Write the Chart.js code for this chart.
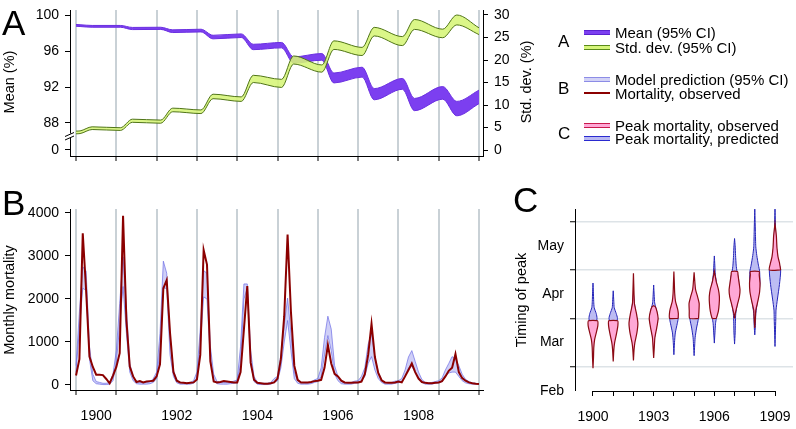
<!DOCTYPE html>
<html>
<head>
<meta charset="utf-8">
<script src="https://cdn.jsdelivr.net/npm/chart.js@4.4.1/dist/chart.umd.min.js"></script>
<style>
  html, body { margin: 0; padding: 0; background: #fff; }
  body { width: 796px; height: 429px; position: relative; overflow: hidden;
         font-family: "Liberation Sans", Arial, sans-serif; color: #000; }
  canvas { position: absolute; left: 0; top: 0; }
  .panel { position: absolute; font-size: 35px; line-height: 35px; }
  .ytitle { position: absolute; font-size: 14.5px; white-space: nowrap;
            transform: translate(-50%, -50%) rotate(-90deg); }
  .leg-letter { position: absolute; left: 558px; font-size: 17px; line-height: 17px; transform: translateY(-50%); }
  .leg-row { position: absolute; left: 584px; height: 16px; transform: translateY(-50%);
             display: flex; align-items: center; font-size: 15px; white-space: nowrap; }
  .sw { width: 26px; margin-right: 5px; box-sizing: border-box; }
</style>
</head>
<body>
<canvas id="cA" width="796" height="429"></canvas>
<canvas id="cB" width="796" height="429"></canvas>
<canvas id="cC" width="796" height="429"></canvas>

<div class="panel" style="left:2px; top:5px;">A</div>
<div class="panel" style="left:2px; top:185px;">B</div>
<div class="panel" style="left:513px; top:182px;">C</div>

<div class="ytitle" style="left:9px; top:82px;">Mean (%)</div>
<div class="ytitle" style="left:526px; top:82px;">Std. dev. (%)</div>
<div class="ytitle" style="left:9px; top:300px;">Monthly mortality</div>
<div class="ytitle" style="left:521px; top:300px;">Timing of peak</div>

<div class="leg-letter" style="top:41px;">A</div>
<div class="leg-letter" style="top:88px;">B</div>
<div class="leg-letter" style="top:133px;">C</div>
<div class="leg-row" style="top:32px;"><div class="sw" style="height:5px;background:#7c3ff0;border-top:1px solid #5a22d0;border-bottom:1px solid #5a22d0;"></div>Mean (95% CI)</div>
<div class="leg-row" style="top:47px;"><div class="sw" style="height:5px;background:#d6f57a;border-top:1.5px solid #5a8a1a;border-bottom:1.5px solid #5a8a1a;"></div>Std. dev. (95% CI)</div>
<div class="leg-row" style="top:79px;"><div class="sw" style="height:5px;background:#d2d2f6;border-top:1.5px solid #8c8ce6;border-bottom:1.5px solid #8c8ce6;"></div>Model prediction (95% CI)</div>
<div class="leg-row" style="top:93px;"><div class="sw" style="height:2px;background:#8b0000;"></div>Mortality, observed</div>
<div class="leg-row" style="top:125px;"><div class="sw" style="height:5px;background:#ffa8d6;border-top:1.5px solid #c81a4c;border-bottom:1.5px solid #c81a4c;"></div>Peak mortality, observed</div>
<div class="leg-row" style="top:138px;"><div class="sw" style="height:5px;background:#b9b9f2;border-top:1.5px solid #2a2ad0;border-bottom:1.5px solid #2a2ad0;"></div>Peak mortality, predicted</div>

<script>
// ---------- DATA ----------
// panel A : knots (decimal year) of the mean / std. dev. bands
const yrA    = [1900.0, 1900.1, 1900.4, 1901.1, 1901.4, 1902.1, 1902.4, 1903.1, 1903.4, 1904.1, 1904.4,
                1905.1, 1905.4, 1906.1, 1906.4, 1907.1, 1907.4, 1908.1, 1908.4, 1909.1, 1909.45, 1910.0];
const meanHi = [98.95, 98.92, 98.84, 98.84, 98.62, 98.64, 98.35, 98.42, 97.75, 97.9, 96.75,
                96.95, 95.35, 95.72, 93.55, 94.2, 91.82, 92.95, 90.73, 92.05, 90.4, 91.65];
const meanLo = [98.75, 98.72, 98.64, 98.64, 98.38, 98.40, 98.05, 98.12, 97.35, 97.5, 96.15,
                96.35, 94.65, 94.98, 92.45, 93.1, 90.58, 91.75, 89.37, 90.65, 88.8, 90.15];
const sdHi   = [4.2, 4.25, 5.15, 4.95, 6.85, 6.65, 9.3, 8.9, 12.4, 11.8, 16.6,
                15.7, 20.9, 18.9, 24.25, 22.8, 27.25, 25.2, 29.0, 26.85, 30.0, 27.15];
const sdLo   = [3.6, 3.65, 4.55, 4.35, 6.15, 5.95, 8.5, 8.1, 11.4, 10.8, 15.0,
                13.9, 19.1, 17.3, 22.35, 21.0, 25.35, 23.2, 26.8, 24.95, 27.8, 25.65];
const meanTicks = [85, 88, 92, 96, 100];
const meanTickLabels = ["0", "88", "92", "96", "100"];
const sdTicks = [0, 5, 10, 15, 20, 25, 30];

// panel B : monthly values Jan 1900 .. Jan 1910
const obsMortality = [
  220, 600, 3530, 2200, 660, 420, 240, 240, 230, 140, 40, 220,
  420, 740, 3937, 1500, 430, 200, 70, 90, 60, 80, 90, 100,
  200, 480, 2250, 2440, 1200, 300, 100, 60, 50, 40, 50, 60,
  130, 700, 3140, 2800, 550, 80, 60, 70, 90, 80, 70, 60,
  60, 300, 1300, 2300, 520, 120, 50, 40, 30, 30, 40, 60,
  150, 600, 1600, 3500, 1700, 450, 120, 60, 60, 60, 70, 90,
  100, 120, 400, 930, 500, 260, 200, 100, 60, 50, 50, 60,
  60, 80, 250, 700, 1420, 650, 280, 110, 60, 50, 50, 60,
  80, 60, 200, 350, 500, 300, 150, 70, 50, 40, 40, 50,
  60, 90, 200, 330, 400, 720, 300, 160, 100, 60, 40, 30,
  25];
const modelLo = [
  300, 1300, 2250, 2200, 600, 100, 30, 20, 10, 10, 20, 100,
  500, 1400, 2290, 1200, 300, 100, 30, 20, 20, 20, 30, 60,
  150, 800, 2250, 2250, 700, 200, 50, 20, 20, 20, 20, 40,
  150, 900, 2050, 2000, 600, 100, 30, 20, 20, 20, 30, 40,
  50, 500, 2000, 2250, 500, 80, 20, 10, 10, 10, 20, 60,
  100, 400, 1000, 1500, 800, 150, 40, 20, 20, 20, 30, 60,
  80, 200, 700, 1150, 800, 250, 100, 30, 20, 20, 20, 40,
  50, 100, 200, 500, 660, 350, 150, 60, 20, 20, 20, 40,
  50, 80, 200, 400, 430, 300, 150, 60, 20, 20, 20, 40,
  50, 80, 200, 280, 300, 300, 200, 100, 50, 30, 20, 20,
  20];
const modelHi = [
  450, 1700, 2750, 2650, 900, 250, 80, 60, 40, 40, 60, 250,
  800, 1900, 2980, 1800, 500, 200, 80, 60, 50, 60, 70, 150,
  300, 1200, 2880, 2600, 1100, 350, 120, 60, 50, 50, 60, 100,
  300, 1300, 2660, 2600, 900, 250, 80, 60, 60, 60, 70, 90,
  120, 900, 2350, 2350, 800, 200, 60, 40, 40, 40, 60, 150,
  200, 700, 1400, 2020, 1200, 300, 100, 60, 50, 50, 70, 120,
  150, 400, 1100, 1600, 1300, 450, 200, 80, 50, 50, 60, 90,
  100, 200, 400, 950, 1200, 650, 300, 120, 60, 50, 60, 90,
  100, 150, 350, 650, 800, 550, 300, 130, 60, 50, 60, 80,
  100, 160, 350, 500, 660, 600, 450, 250, 130, 80, 50, 40,
  30];
const mortTicks = [0, 1000, 2000, 3000, 4000];
const yearTicks = [1900, 1901, 1902, 1903, 1904, 1905, 1906, 1907, 1908, 1909, 1910];
const yearLabelsB = [1900, 1902, 1904, 1906, 1908];

// panel C : violin outlines, [month (2 = 1 Mar), half width in years]
const peakYears = [1900, 1901, 1902, 1903, 1904, 1905, 1906, 1907, 1908, 1909];
const yearLabelsC = [1900, 1903, 1906, 1909];
const monthNames = ["Feb", "Mar", "Apr", "May"];
const predProfiles = [
  [[2.45,0],[2.75,0.1],[3.0,0.2],[3.1,0.16],[3.22,0.06],[3.35,0.035],[3.55,0.02],[3.73,0]],
  [[2.5,0],[2.8,0.1],[3.0,0.21],[3.1,0.15],[3.22,0.05],[3.35,0.03],[3.57,0]],
  [[2.5,0],[2.8,0.15],[2.95,0.18],[3.2,0.08],[3.5,0]],
  [[2.5,0],[2.8,0.12],[3.0,0.2],[3.2,0.12],[3.32,0.05],[3.45,0.03],[3.69,0]],
  [[2.25,0],[2.5,0.03],[2.7,0.07],[2.9,0.17],[3.0,0.21],[3.1,0.15],[3.3,0.05],[3.5,0]],
  [[2.23,0],[2.45,0.03],[2.6,0.05],[2.8,0.12],[3.0,0.21],[3.2,0.15],[3.4,0.05],[3.6,0]],
  [[2.49,0],[2.7,0.03],[2.9,0.06],[3.0,0.1],[3.3,0.2],[3.6,0.15],[3.9,0.05],[4.1,0.025],[4.29,0]],
  [[2.47,0],[2.7,0.03],[2.9,0.04],[3.1,0.06],[3.5,0.2],[3.8,0.2],[3.97,0.12],[4.1,0.08],[4.3,0.05],[4.5,0.03],[4.65,0]],
  [[2.66,0],[2.85,0.03],[3.1,0.05],[3.4,0.15],[3.7,0.25],[3.97,0.24],[4.1,0.18],[4.3,0.1],[4.48,0.05],[4.8,0.03],[5.3,0]],
  [[2.42,0],[2.7,0.02],[3.0,0.04],[3.17,0.05],[3.4,0.12],[3.7,0.22],[4.0,0.28],[4.2,0.15],[4.5,0.06],[4.8,0.03],[5.3,0]]
];
const obsProfiles = [
  [[1.97,0],[2.2,0.025],[2.4,0.04],[2.56,0.08],[2.7,0.16],[2.85,0.24],[2.95,0.22]],
  [[2.11,0],[2.35,0.03],[2.5,0.07],[2.7,0.17],[2.85,0.23],[2.95,0.22]],
  [[2.13,0],[2.35,0.03],[2.5,0.07],[2.7,0.17],[2.9,0.22],[3.1,0.15],[3.3,0.05],[3.5,0.03],[3.93,0]],
  [[2.18,0],[2.4,0.03],[2.6,0.06],[2.8,0.15],[3.0,0.22],[3.15,0.16],[3.24,0.08],[3.26,0]],
  [[3.0,0.21],[3.1,0.22],[3.2,0.18],[3.35,0.08],[3.52,0.04],[3.75,0.02],[3.97,0]],
  [[3.0,0.22],[3.15,0.24],[3.31,0.25],[3.45,0.17],[3.6,0.07],[3.73,0.04],[3.95,0]],
  [[3.0,0.1],[3.15,0.2],[3.3,0.24],[3.45,0.25],[3.6,0.2],[3.75,0.1],[3.86,0.05],[3.97,0]],
  [[3.0,0],[3.11,0.04],[3.3,0.15],[3.45,0.24],[3.59,0.27],[3.75,0.22],[3.9,0.17],[3.97,0.15]],
  [[2.8,0],[3.0,0.03],[3.17,0.05],[3.35,0.15],[3.55,0.24],[3.73,0.26],[3.9,0.22],[3.97,0.22]],
  [[4.0,0.28],[4.15,0.22],[4.27,0.15],[4.45,0.1],[4.6,0.08],[4.69,0.07],[4.85,0.03],[4.96,0]]
];

// ---------- STYLE ----------
const FONT = "'Liberation Sans', Arial, sans-serif";
const GRID = "#c9d1d6";
Chart.defaults.font.family = FONT;
Chart.defaults.font.size = 14;
Chart.defaults.color = "#000";

const pts = (xs, ys) => xs.map((x, i) => ({ x, y: ys[i] }));
const monthX = obsMortality.map((_, i) => 1900 + i / 12);
const isInt = (v) => Math.abs(v - Math.round(v)) < 1e-6;

// fix the size of an axis box, and drop the label overhang padding
const fixSize = (w, h) => (s) => {
  if (w != null) s.width = w;
  if (h != null) s.height = h;
  s.paddingTop = 0; s.paddingBottom = 0; s.paddingLeft = 0; s.paddingRight = 0;
};
const setTicks = (vals) => (s) => { s.ticks = vals.map((v) => ({ value: v })); };

function yAxisBase(extra) {
  return Object.assign({
    type: "linear",
    border: { display: true, color: "#000", width: 1 },
    grid: { drawOnChartArea: false, drawTicks: true, tickLength: 5, tickColor: "#000" },
    ticks: { padding: 6, font: { size: 14 }, callback: (v) => String(v) }
  }, extra);
}

const baseOpts = {
  responsive: false,
  animation: false,
  events: [],
  plugins: { legend: { display: false }, tooltip: { enabled: false } }
};

// ---------- PANEL A ----------
const axisBreak = {
  id: "axisBreak",
  afterDraw(chart) {
    const { ctx } = chart;
    const x = chart.chartArea.left;
    ctx.save();
    ctx.fillStyle = "#fff";
    ctx.fillRect(x - 2, 133.5, 4, 4);
    ctx.strokeStyle = "#000";
    ctx.lineWidth = 1;
    ctx.beginPath();
    ctx.moveTo(x - 5, 136.5); ctx.lineTo(x + 4, 132.5);
    ctx.moveTo(x - 5, 140); ctx.lineTo(x + 4, 136);
    ctx.stroke();
    ctx.restore();
  }
};

new Chart(document.getElementById("cA"), {
  type: "line",
  data: {
    datasets: [
      { data: pts(yrA, meanHi), yAxisID: "y", borderColor: "#6a2fe0", borderWidth: 1, pointRadius: 0,
        fill: false, cubicInterpolationMode: "monotone", order: 2 },
      { data: pts(yrA, meanLo), yAxisID: "y", borderColor: "#6a2fe0", borderWidth: 1, pointRadius: 0,
        backgroundColor: "#7c3ff0", fill: "-1", cubicInterpolationMode: "monotone", order: 2 },
      { data: pts(yrA, sdHi), yAxisID: "y2", borderColor: "#4f7417", borderWidth: 1, pointRadius: 0,
        fill: false, cubicInterpolationMode: "monotone", order: 1 },
      { data: pts(yrA, sdLo), yAxisID: "y2", borderColor: "#4f7417", borderWidth: 1, pointRadius: 0,
        backgroundColor: "rgba(214,245,120,0.88)", fill: "-1", cubicInterpolationMode: "monotone", order: 1 }
    ]
  },
  options: Object.assign({}, baseOpts, {
    layout: { padding: { left: 0, right: 236, top: 10, bottom: 263 } },
    scales: {
      x: {
        type: "linear", min: 1899.85, max: 1910.1,
        afterBuildTicks: setTicks(yearTicks), afterFit: fixSize(null, 10),
        border: { display: true, color: "#000" },
        grid: { color: GRID, lineWidth: 2, drawTicks: true, tickLength: 5, tickColor: "#000", tickWidth: 1 },
        ticks: { display: false }
      },
      y: yAxisBase({
        position: "left", min: 84.333, max: 100.556,
        afterBuildTicks: setTicks(meanTicks), afterFit: fixSize(70, null),
        ticks: { padding: 6, callback: (v) => meanTickLabels[meanTicks.indexOf(v)] }
      }),
      y2: yAxisBase({
        position: "right", min: -1.333, max: 31.111,
        afterBuildTicks: setTicks(sdTicks), afterFit: fixSize(77, null)
      })
    }
  }),
  plugins: [axisBreak]
});

// ---------- PANEL B ----------
const bTicks = yearTicks.concat(yearLabelsB.map((y) => y + 0.5)).sort((a, b) => a - b);
new Chart(document.getElementById("cB"), {
  type: "line",
  data: {
    datasets: [
      { data: pts(monthX, obsMortality), borderColor: "#8b0000", borderWidth: 2, pointRadius: 0,
        fill: false, tension: 0, order: 1 },
      { data: pts(monthX, modelHi), borderColor: "rgba(110,110,230,0.7)", borderWidth: 1, pointRadius: 0,
        fill: false, tension: 0, order: 2 },
      { data: pts(monthX, modelLo), borderColor: "rgba(110,110,230,0.7)", borderWidth: 1, pointRadius: 0,
        backgroundColor: "rgba(130,130,235,0.38)", fill: "-1", tension: 0, order: 2 }
    ]
  },
  options: Object.assign({}, baseOpts, {
    layout: { padding: { left: 0, right: 313, top: 209, bottom: 9 } },
    scales: {
      x: {
        type: "linear", min: 1899.85, max: 1910.1,
        afterBuildTicks: setTicks(bTicks), afterFit: fixSize(null, 30),
        border: { display: true, color: "#000" },
        grid: {
          drawTicks: true, tickLength: 5,
          color: GRID, lineWidth: (c) => (c.tick && isInt(c.tick.value) ? 2 : 0),
          tickColor: "#000", tickWidth: (c) => (c.tick && isInt(c.tick.value) ? 1 : 0)
        },
        ticks: {
          autoSkip: false, maxRotation: 0, padding: 13,
          callback: (v) => (yearLabelsB.indexOf(v - 0.5) >= 0 ? String(v - 0.5) : "")
        }
      },
      y: yAxisBase({
        position: "left", min: -116.3, max: 4093,
        afterBuildTicks: setTicks(mortTicks), afterFit: fixSize(70, null)
      })
    }
  })
});

// ---------- PANEL C ----------
function outline(cx, prof) {
  const right = prof.map(([v, w]) => ({ x: cx + w, y: v }));
  const left = prof.slice().reverse().map(([v, w]) => ({ x: cx - w, y: v }));
  const all = right.concat(left);
  all.push(all[0]);
  return all;
}
const violinSets = [];
peakYears.forEach((yr, i) => {
  violinSets.push({ data: outline(yr, predProfiles[i]), showLine: true, pointRadius: 0, tension: 0.2,
    borderColor: "#2525b8", borderWidth: 1, backgroundColor: "#bcbcf3", fill: "shape", order: 2 });
});
peakYears.forEach((yr, i) => {
  violinSets.push({ data: outline(yr, obsProfiles[i]), showLine: true, pointRadius: 0, tension: 0.2,
    borderColor: "#8c0a14", borderWidth: 1.2, backgroundColor: "#ffa8d6", fill: "shape", order: 1 });
});

const bottomAxisC = {
  id: "bottomAxisC",
  afterDraw(chart) {
    const { ctx } = chart;
    const xs = chart.scales.x;
    const y = chart.chartArea.bottom;
    ctx.save();
    ctx.strokeStyle = "#000";
    ctx.lineWidth = 1;
    ctx.beginPath();
    ctx.moveTo(xs.getPixelForValue(peakYears[0]) - 0.5, y + 0.5);
    ctx.lineTo(xs.getPixelForValue(peakYears[peakYears.length - 1]) + 0.5, y + 0.5);
    ctx.stroke();
    ctx.restore();
  }
};

const cYTicks = [1.5, 2, 2.5, 3, 3.5, 4, 4.5, 5];
new Chart(document.getElementById("cC"), {
  type: "scatter",
  data: { datasets: violinSets },
  options: Object.assign({}, baseOpts, {
    layout: { padding: { left: 515, right: 3, top: 209, bottom: 8 } },
    scales: {
      x: {
        type: "linear", min: 1899.11, max: 1909.89,
        afterBuildTicks: setTicks(peakYears), afterFit: fixSize(null, 30),
        border: { display: false },
        grid: { drawOnChartArea: false, drawTicks: true, tickLength: 5, tickColor: "#000" },
        ticks: { autoSkip: false, maxRotation: 0, padding: 13,
                 callback: (v) => (yearLabelsC.indexOf(v) >= 0 ? String(v) : "") }
      },
      y: {
        type: "linear", position: "left", min: 1.5, max: 5.26,
        afterBuildTicks: setTicks(cYTicks), afterFit: fixSize(60, null),
        border: { display: true, color: "#000" },
        grid: {
          drawOnChartArea: true, drawTicks: true, tickLength: 5,
          color: "#dde3e7", lineWidth: (c) => (c.tick && isInt(c.tick.value) ? 1.5 : 0),
          tickColor: "#000", tickWidth: (c) => (c.tick && isInt(c.tick.value) ? 1 : 0)
        },
        ticks: { padding: 6, autoSkip: false,
                 callback: (v) => (isInt(v) ? "" : monthNames[Math.round(v - 1.5)]) }
      }
    }
  }),
  plugins: [bottomAxisC]
});
</script>
</body>
</html>
